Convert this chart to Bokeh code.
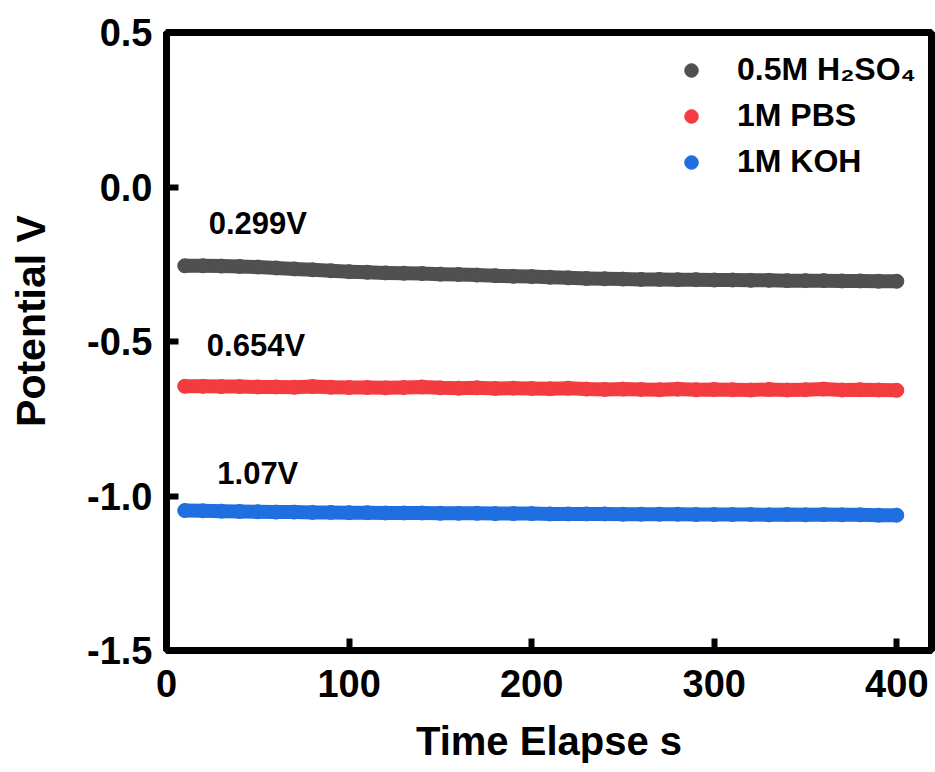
from bokeh.plotting import figure
from bokeh.models import Range1d, FixedTicker, PrintfTickFormatter, Legend, LegendItem
from bokeh.core.properties import value
from bokeh.embed import file_html
from bokeh.resources import INLINE

# ---- data ----
time_s = [10, 20, 30, 40, 50, 60, 70, 80, 90, 100,
          110, 120, 130, 140, 150, 160, 170, 180, 190, 200,
          210, 220, 230, 240, 250, 260, 270, 280, 290, 300,
          310, 320, 330, 340, 350, 360, 370, 380, 390, 400]

h2so4 = [-0.255, -0.255, -0.256, -0.257, -0.259, -0.262, -0.265, -0.268, -0.271, -0.274,
         -0.276, -0.278, -0.279, -0.280, -0.282, -0.283, -0.285, -0.287, -0.289, -0.290,
         -0.292, -0.294, -0.296, -0.297, -0.298, -0.299, -0.299, -0.300, -0.300, -0.301,
         -0.301, -0.302, -0.302, -0.303, -0.303, -0.303, -0.304, -0.304, -0.305, -0.305]

pbs = [-0.645, -0.645, -0.646, -0.646, -0.647, -0.647, -0.648, -0.646, -0.648, -0.649,
       -0.649, -0.650, -0.649, -0.647, -0.650, -0.651, -0.650, -0.652, -0.651, -0.652,
       -0.653, -0.651, -0.654, -0.655, -0.654, -0.655, -0.656, -0.654, -0.656, -0.655,
       -0.656, -0.657, -0.655, -0.657, -0.656, -0.654, -0.657, -0.656, -0.657, -0.658]

koh = [-1.047, -1.048, -1.049, -1.050, -1.051, -1.052, -1.052, -1.053, -1.053, -1.054,
       -1.054, -1.055, -1.055, -1.055, -1.056, -1.056, -1.056, -1.057, -1.057, -1.057,
       -1.058, -1.058, -1.058, -1.058, -1.059, -1.059, -1.059, -1.059, -1.060, -1.060,
       -1.060, -1.060, -1.061, -1.060, -1.061, -1.060, -1.061, -1.061, -1.062, -1.062]

series_names = ["0.5M H\u2082SO\u2084", "1M PBS", "1M KOH"]
series_colors = ["#505050", "#f23c40", "#1f6fe0"]

annot_text = ["0.299V", "0.654V", "1.07V"]
annot_x = [50, 49, 50]
annot_y = [-0.117, -0.513, -0.926]

x_ticks = [0, 100, 200, 300, 400]
y_ticks = [0.5, 0.0, -0.5, -1.0, -1.5]

x_title = "Time Elapse s"
y_title = "Potential V"

FONT = "Liberation Sans"

p = figure(width=935, height=772, output_backend="svg", toolbar_location=None,
           x_range=Range1d(0, 419), y_range=Range1d(-1.5, 0.5),
           min_border_left=166, min_border_right=4, min_border_top=32, min_border_bottom=122)

p.grid.visible = False
p.background_fill_color = "white"
p.border_fill_color = "white"
p.outline_line_color = "black"
p.outline_line_width = 7
p.outline_line_alpha = 1.0

for ax in (p.xaxis[0], p.yaxis[0]):
    ax.axis_line_width = 7
    ax.axis_line_color = "black"
    ax.major_tick_line_width = 6
    ax.major_tick_line_color = "black"
    ax.major_tick_in = 12
    ax.major_tick_out = 0
    ax.minor_tick_line_color = None
    ax.major_label_text_font = FONT
    ax.major_label_text_font_size = "38px"
    ax.major_label_text_font_style = "bold"
    ax.major_label_text_color = "black"
    ax.axis_label_text_font = FONT
    ax.axis_label_text_font_style = "bold"
    ax.axis_label_text_color = "black"

p.xaxis.ticker = FixedTicker(ticks=x_ticks)
p.yaxis.ticker = FixedTicker(ticks=y_ticks)
p.yaxis.formatter = PrintfTickFormatter(format="%.1f")
p.xaxis.major_label_standoff = 19
p.yaxis.major_label_standoff = 14

p.xaxis.axis_label = x_title
p.xaxis.axis_label_text_font_size = "40px"
p.xaxis.axis_label_standoff = 19

# leading em space nudges the centred title slightly upward, as in the reference
p.yaxis.axis_label = "\u2003" + y_title
p.yaxis.axis_label_text_font_size = "41px"
p.yaxis.axis_label_standoff = 30

items = []
for vals, name, col in zip([h2so4, pbs, koh], series_names, series_colors):
    p.line(time_s, vals, line_color=col, line_width=14, line_cap="round", line_join="round")
    r = p.scatter(time_s, vals, size=14, fill_color=col, line_color=col, line_width=1)
    items.append(LegendItem(label=name, renderers=[r]))

legend = Legend(items=items, location=(508, 470), glyph_width=34, glyph_height=34,
                label_standoff=29, spacing=9, padding=0, margin=0,
                border_line_alpha=0, background_fill_alpha=0,
                label_text_font=FONT, label_text_font_size="32px",
                label_text_font_style="bold", label_text_color="black", label_height=34)
p.add_layout(legend)

p.text(x=annot_x, y=annot_y, text=annot_text, text_font=value(FONT),
       text_font_size="31px", text_font_style="bold", text_align="center",
       text_baseline="middle", text_color="black")

open("out.html", "w").write(file_html(p, INLINE))
